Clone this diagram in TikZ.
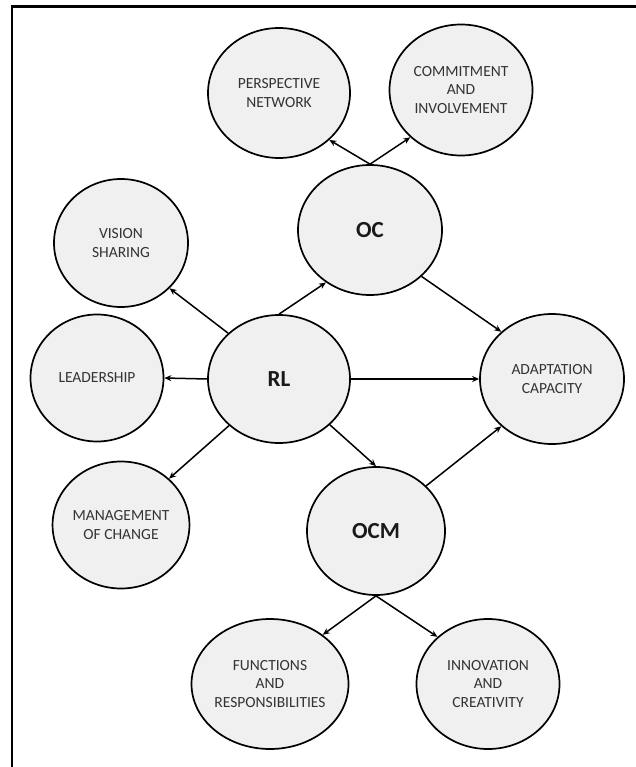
\documentclass[tikz,border=0pt]{standalone}
\usepackage{fontspec}
\setmainfont{Carlito}
\usetikzlibrary{shapes.geometric,arrows.meta}
\definecolor{circfill}{HTML}{F0F0F0}
\definecolor{labelgray}{HTML}{333333}
\tikzset{
  bubble/.style={ellipse, draw=black, line width=1.7pt, fill=circfill, inner sep=0pt,
    align=center, text=labelgray, font=\fontsize{15.5}{18.7}\selectfont},
  hub/.style={bubble, text=black!90, font=\fontsize{23}{26}\selectfont\bfseries},
  arr/.style={line width=1.5pt, -{Stealth[length=7pt,width=6pt]}},
  frameline/.style={line width=2.4pt}
}
\begin{document}
\begin{tikzpicture}[x=1pt,y=-1pt]
\useasboundingbox (0,0) rectangle (636,767);
\draw[frameline] (12,775) -- (12,6.5) -- (645,6.5);

\node[bubble, minimum width=142pt, minimum height=130pt] (pn) at (279,93) {PERSPECTIVE\\NETWORK};
\node[bubble, minimum width=143pt, minimum height=131pt] (ci) at (461,90) {COMMITMENT\\AND\\INVOLVEMENT};
\node[hub, minimum width=144pt, minimum height=130pt] (oc) at (370,230) {OC};
\node[bubble, minimum width=134pt, minimum height=128pt] (vs) at (121,243) {VISION\\SHARING};
\node[bubble, minimum width=133pt, minimum height=127pt] (ld) at (97,378) {LEADERSHIP};
\node[hub, minimum width=142pt, minimum height=128pt] (rl) at (279,379) {RL};
\node[bubble, minimum width=144pt, minimum height=130pt] (ac) at (552,379) {ADAPTATION\\CAPACITY};
\node[bubble, minimum width=136pt, minimum height=127pt] (mc) at (121,525) {MANAGEMENT\\OF CHANGE};
\node[hub, minimum width=138pt, minimum height=128pt] (ocm) at (376,531) {OCM};
\node[bubble, minimum width=143pt, minimum height=130pt] (fr) at (270,684) {FUNCTIONS\\AND\\RESPONSIBILITIES};
\node[bubble, minimum width=143pt, minimum height=130pt] (ic) at (488,684) {INNOVATION\\AND\\CREATIVITY};

\draw[arr] (oc.90) -- (pn.317);
\draw[arr] (oc.90) -- (ci.223);
\draw[arr] (rl.138) -- (vs.317);
\draw[arr] (rl.180) -- (ld.0);
\draw[arr] (rl.223) -- (mc.44);
\draw[arr] (rl.90) -- (oc.230);
\draw[arr] (rl.0) -- (ac.180);
\draw[arr] (rl.318) -- (ocm.90);
\draw[arr] (oc.318) -- (ac.137);
\draw[arr] (ocm.42) -- (ac.223);
\draw[arr] (ocm.270) -- (fr.43);
\draw[arr] (ocm.270) -- (ic.137);
\end{tikzpicture}
\end{document}
